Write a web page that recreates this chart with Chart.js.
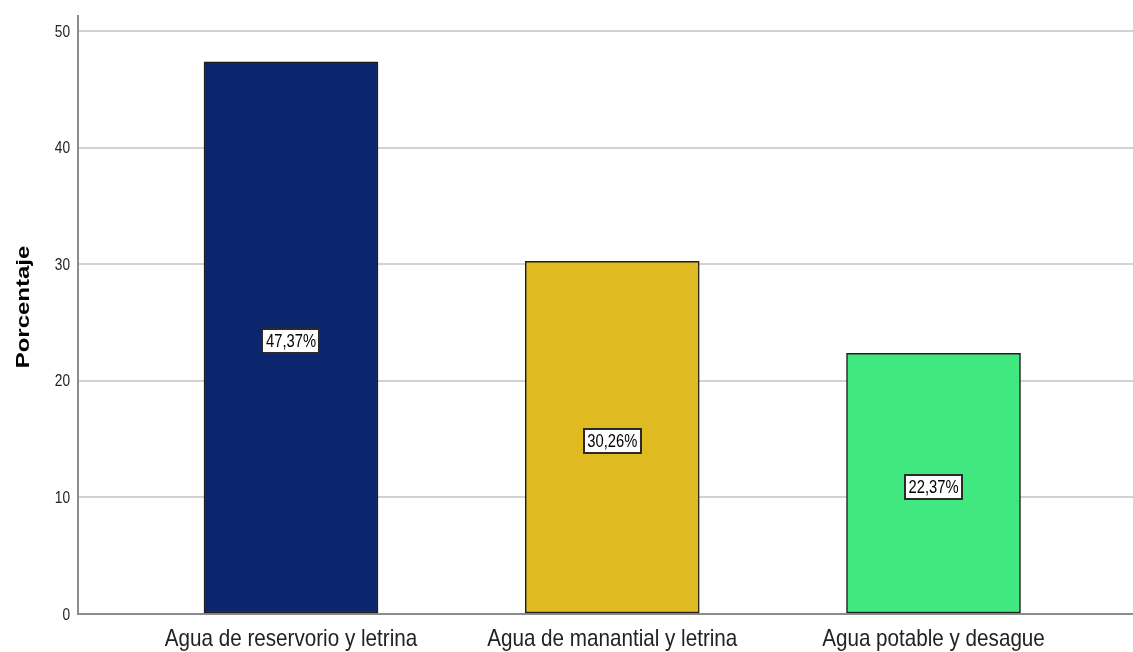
<!DOCTYPE html>
<html>
<head>
<meta charset="utf-8">
<script src="https://cdn.jsdelivr.net/npm/chart.js@4/dist/chart.umd.min.js"></script>
<style>
  html, body { margin: 0; padding: 0; background: #fff; }
  #wrap { width: 1133px; height: 652px; position: relative; }
</style>
</head>
<body>
<div id="wrap"><canvas id="c"></canvas></div>
<script>
// Categories and percentages
const categories = ['Agua de reservorio y letrina', 'Agua de manantial y letrina', 'Agua potable y desague'];
const positions = [1, 2, 3];
const percentages = [47.37, 30.26, 22.37];
const valueLabels = ['47,37%', '30,26%', '22,37%'];
const barColors = ['#0b266d', '#dfba20', '#41e87f'];
const yTicks = [0, 10, 20, 30, 40, 50];
const yTitle = 'Porcentaje';

const FONT = '"Liberation Sans", Arial, sans-serif';

// Draw a string with a narrow horizontal scale (condensed look)
function narrowText(ctx, text, x, y, sx, align, baseline) {
  ctx.save();
  ctx.translate(x, y);
  ctx.scale(sx, 1);
  ctx.textAlign = align;
  ctx.textBaseline = baseline;
  ctx.fillText(text, 0, 0);
  ctx.restore();
}

// Axis texts: category labels, y tick labels and y title
const axisText = {
  id: 'axisText',
  afterDraw(chart) {
    const ctx = chart.ctx;
    const xs = chart.scales.x, ys = chart.scales.y;
    ctx.save();
    ctx.fillStyle = '#222';
    ctx.font = '24px ' + FONT;
    positions.forEach((p, i) => {
      narrowText(ctx, categories[i], xs.getPixelForValue(p), ys.bottom + 32, 0.86, 'center', 'alphabetic');
    });
    ctx.font = '16.5px ' + FONT;
    yTicks.forEach(v => {
      narrowText(ctx, String(v), xs.left - 8, ys.getPixelForValue(v) + 1, 0.83, 'right', 'middle');
    });
    ctx.fillStyle = '#000';
    ctx.font = 'bold 24px ' + FONT;
    ctx.save();
    ctx.translate(24, (ys.top + ys.bottom) / 2 - 8);
    ctx.scale(0.8, 1);
    ctx.rotate(-Math.PI / 2);
    ctx.textAlign = 'center';
    ctx.textBaseline = 'middle';
    ctx.fillText(yTitle, 0, 0);
    ctx.restore();
    ctx.restore();
  }
};

// Boxed percentage label in the middle of each bar
const boxLabels = {
  id: 'boxLabels',
  afterDatasetsDraw(chart) {
    const ctx = chart.ctx;
    const meta = chart.getDatasetMeta(0);
    ctx.save();
    ctx.font = '18px ' + FONT;
    meta.data.forEach((bar, i) => {
      const text = valueLabels[i];
      const cy = (bar.y + bar.base) / 2 + 3.5;
      const w = ctx.measureText(text).width * 0.82 + 7;
      const h = 24;
      const bx = Math.round(bar.x - w / 2), by = Math.round(cy - h / 2);
      ctx.fillStyle = '#ffffff';
      ctx.fillRect(bx, by, Math.round(w), h);
      ctx.strokeStyle = '#2a2a2a';
      ctx.lineWidth = 2;
      ctx.strokeRect(bx, by, Math.round(w), h);
      ctx.fillStyle = '#000';
      narrowText(ctx, text, bar.x, cy + 1, 0.82, 'center', 'middle');
    });
    ctx.restore();
  }
};

new Chart(document.getElementById('c'), {
  type: 'bar',
  data: {
    datasets: [{
      data: positions.map((x, i) => ({ x: x, y: percentages[i] })),
      backgroundColor: barColors,
      borderColor: '#1e1e1e',
      borderWidth: 1.5,
      borderSkipped: false,
      barThickness: 174
    }]
  },
  options: {
    responsive: true,
    maintainAspectRatio: false,
    animation: false,
    layout: { padding: { top: 16, right: 0, left: 0, bottom: 0 } },
    plugins: { legend: { display: false }, tooltip: { enabled: false } },
    scales: {
      x: {
        type: 'linear',
        offset: false,
        min: 0.337,
        max: 3.621,
        afterBuildTicks(scale) { scale.ticks = positions.map(v => ({ value: v })); },
        afterFit(scale) { scale.height = 38; },
        grid: { display: false, drawTicks: false, offset: false },
        border: { display: true, color: '#8c8c8c', width: 2 },
        ticks: { display: false }
      },
      y: {
        min: 0,
        max: 51.3,
        afterBuildTicks(scale) { scale.ticks = yTicks.map(v => ({ value: v })); },
        afterFit(scale) { scale.width = 78; },
        grid: { color: '#d2d2d2', lineWidth: 2, drawTicks: false },
        border: { display: true, color: '#8c8c8c', width: 2 },
        ticks: { display: false }
      }
    }
  },
  plugins: [boxLabels, axisText]
});
</script>
</body>
</html>
